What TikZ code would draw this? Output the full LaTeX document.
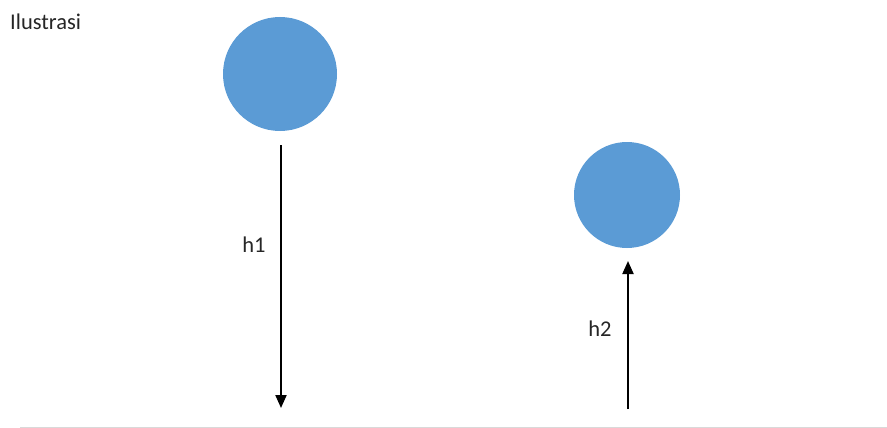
\documentclass[tikz,border=0pt]{standalone}
\usepackage{fontspec}
\setmainfont{Carlito}
\usetikzlibrary{arrows.meta}
\definecolor{ballblue}{HTML}{5B9BD5}
\definecolor{floorgray}{HTML}{D9D9D9}
\tikzset{
  ball/.style={circle, fill=ballblue, draw=none, inner sep=0pt},
  heightarrow/.style={line width=2pt, -{Triangle[length=13pt,width=11pt]}},
  lbl/.style={font=\fontsize{22.5}{26}\selectfont, inner sep=0pt, text=black!85},
}
\begin{document}
\begin{tikzpicture}[x=1pt,y=-1pt]
\useasboundingbox (0,0) rectangle (887,428);
\node[lbl, anchor=west] (title) at (10,22) {Ilustrasi};
\node[ball, minimum size=114pt] (ball1) at (280,74) {};
\node[ball, minimum size=106pt] (ball2) at (627,195) {};
\coordinate (a1s) at (281,145);
\coordinate (a1e) at (281,408);
\coordinate (a2s) at (628,409);
\coordinate (a2e) at (628,261);
\draw[heightarrow] (a1s) -- (a1e);
\draw[heightarrow] (a2s) -- (a2e);
\node[lbl] (h1) at (254,245) {h1};
\node[lbl] (h2) at (600,329) {h2};
\coordinate (fl) at (20,427);
\coordinate (fr) at (887,427);
\draw[floorgray, line width=1pt] (fl) -- (fr);
\end{tikzpicture}
\end{document}
